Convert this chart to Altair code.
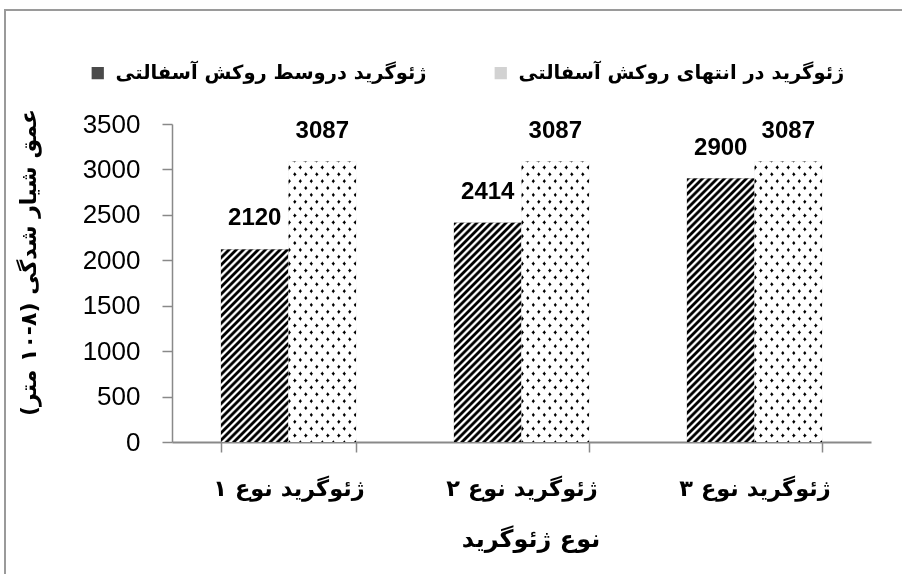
import math
import altair as alt
import pandas as pd

# ---------------- data ----------------
categories = ["ژئوگرید نوع ۱", "ژئوگرید نوع ۲", "ژئوگرید نوع ۳"]
series = ["ژئوگرید دروسط روکش آسفالتی", "ژئوگرید در انتهای روکش آسفالتی"]
middle_values = [2120, 2414, 2900]
end_values = [3087, 3087, 3087]
y_ticks = [0, 500, 1000, 1500, 2000, 2500, 3000, 3500]
x_title = "نوع  ژئوگرید"
y_title = "عمق شیار شدگی (\u2066۱۰-۸\u2069 متر)"

rows = []
for c, mv, ev in zip(categories, middle_values, end_values):
    rows.append({"cat": c, "series": series[0], "value": mv})
    rows.append({"cat": c, "series": series[1], "value": ev})
df = pd.DataFrame(rows)

# ---------------- layout / style ----------------
W, H = 699, 318
YMAX = 3500
PAD_IN = 0.42
bar_w = (W / len(categories)) * (1 - PAD_IN) / len(series)

PERSIAN_FONT = "DejaVu Sans"
NUM_FONT = "Liberation Sans"
AXIS_GRAY = "#898989"


def stripe_gradient(w, h, period, r, profile, reverse=False):
    """Linear gradient producing parallel stripes across a w x h box.
    Isolines are x + r*y = const (or (w-x) + r*y when reverse)."""
    a = (w + r * h) * w / (w * w + r * r * h * h)
    b = r * h * (w + r * h) / (w * w + r * r * h * h)
    n = (w + r * h) / period
    stops = []
    k = 0
    while k / n <= 1.0:
        for frac, col in profile:
            off = (k + frac) / n
            if off <= 1.0:
                stops.append({"offset": round(off, 5), "color": col})
        k += 1
    if reverse:
        return {"gradient": "linear", "x1": 1, "y1": 0, "x2": 1 - a, "y2": b, "stops": stops}
    return {"gradient": "linear", "x1": 0, "y1": 0, "x2": a, "y2": b, "stops": stops}


HATCH_PROFILE = [(0.0, "#000000"), (0.3, "#000000"), (0.55, "#ffffff"), (0.75, "#ffffff"), (1.0, "#000000")]
DOT_PROFILE = [(0.0, "#ffffff"), (0.3, "#ffffff"), (0.41, "#000000"), (0.59, "#000000"), (0.7, "#ffffff"), (1.0, "#ffffff")]

X = alt.X(
    "cat:N",
    sort=categories,
    scale=alt.Scale(paddingInner=PAD_IN, paddingOuter=PAD_IN / 2),
    axis=alt.Axis(
        title=x_title,
        titleFont=PERSIAN_FONT,
        titleFontSize=24,
        titleFontWeight="bold",
        titleColor="black",
        titlePadding=28,
        titleX=W / 2 + 9,
        labelAngle=0,
        labelFont=PERSIAN_FONT,
        labelFontSize=22.5,
        labelFontWeight="bold",
        labelColor="black",
        labelPadding=25,
        labelLimit=0,
        tickBand="extent",
        tickSize=10,
        tickColor=AXIS_GRAY,
        tickWidth=1.5,
        domainColor=AXIS_GRAY,
        domainWidth=2,
        grid=False,
    ),
)
XO = alt.XOffset("series:N", sort=series, scale=alt.Scale(domain=series, paddingInner=0))
Y = alt.Y(
    "value:Q",
    scale=alt.Scale(domain=[0, YMAX], nice=False),
    axis=alt.Axis(
        values=y_ticks,
        format="d",
        title=y_title,
        titleFont=PERSIAN_FONT,
        titleFontSize=22,
        titleFontWeight="bold",
        titleColor="black",
        titleX=-144,
        titleY=138,
        titleAngle=-90,
        titleAlign="center",
        titleBaseline="middle",
        labelFont=NUM_FONT,
        labelFontSize=26,
        labelColor="black",
        labelPadding=22,
        tickSize=10,
        tickColor=AXIS_GRAY,
        tickWidth=1.5,
        domainColor=AXIS_GRAY,
        domainWidth=1.5,
        grid=False,
    ),
)

base = alt.Chart().mark_bar().encode(
    x=X,
    xOffset=XO,
    y=Y,
    fill=alt.Fill(
        "series:N",
        sort=series,
        scale=alt.Scale(domain=series, range=["#4a4a4a", "#d2d2d2"]),
        legend=alt.Legend(
            orient="none",
            legendX=-84,
            legendY=-61,
            direction="horizontal",
            title=None,
            symbolType="square",
            symbolSize=150,
            symbolStrokeWidth=0,
            labelFont=PERSIAN_FONT,
            labelFontWeight="bold",
            labelFontSize=19.5,
            labelColor="black",
            labelLimit=0,
            labelOffset=8,
            columnPadding=64,
        ),
    ),
)

layers = [base]
for c, mv, ev in zip(categories, middle_values, end_values):
    # hatched bar
    h = mv / YMAX * H
    grad = stripe_gradient(bar_w, h, 7.3, 1.0, HATCH_PROFILE)
    layers.append(
        alt.Chart()
        .mark_bar(fill=grad)
        .encode(x=X, xOffset=XO, y=Y)
        .transform_filter((alt.datum.cat == c) & (alt.datum.series == series[0]))
    )
    # dotted bar: two crossing stripe sets, combined with "lighten"
    h2 = ev / YMAX * H
    g1 = stripe_gradient(bar_w, h2, 11.0, 0.8, DOT_PROFILE)
    g2 = stripe_gradient(bar_w, h2, 11.0, 0.8, DOT_PROFILE, reverse=True)
    layers.append(
        alt.Chart()
        .mark_bar(fill=g1)
        .encode(x=X, xOffset=XO, y=Y)
        .transform_filter((alt.datum.cat == c) & (alt.datum.series == series[1]))
    )
    layers.append(
        alt.Chart()
        .mark_bar(fill=g2, blend="lighten")
        .encode(x=X, xOffset=XO, y=Y)
        .transform_filter((alt.datum.cat == c) & (alt.datum.series == series[1]))
    )

labels = alt.Chart().mark_text(
    baseline="bottom", dy=-19, font=NUM_FONT, fontWeight="bold", fontSize=24, color="black"
).encode(x=X, xOffset=XO, y=Y, text=alt.Text("value:Q", format="d"))
layers.append(labels)

frame = alt.Chart(alt.Data(values=[{"f": 1}])).mark_rect(
    fillOpacity=0, stroke="#9a9a9a", strokeWidth=2
).encode(x=alt.value(-167), x2=alt.value(745), y=alt.value(-114), y2=alt.value(470))
layers.append(frame)

chart = (
    alt.layer(*layers, data=df)
    .properties(
        width=W,
        height=H,
        autosize=alt.AutoSizeParams(type="none"),
        padding={"left": 172, "top": 124, "right": 902 - 172 - W, "bottom": 574 - 124 - H},
        background="white",
    )
    .configure_view(stroke=None)
)

chart.save("out.html", embed_options={"renderer": "svg", "actions": False})
